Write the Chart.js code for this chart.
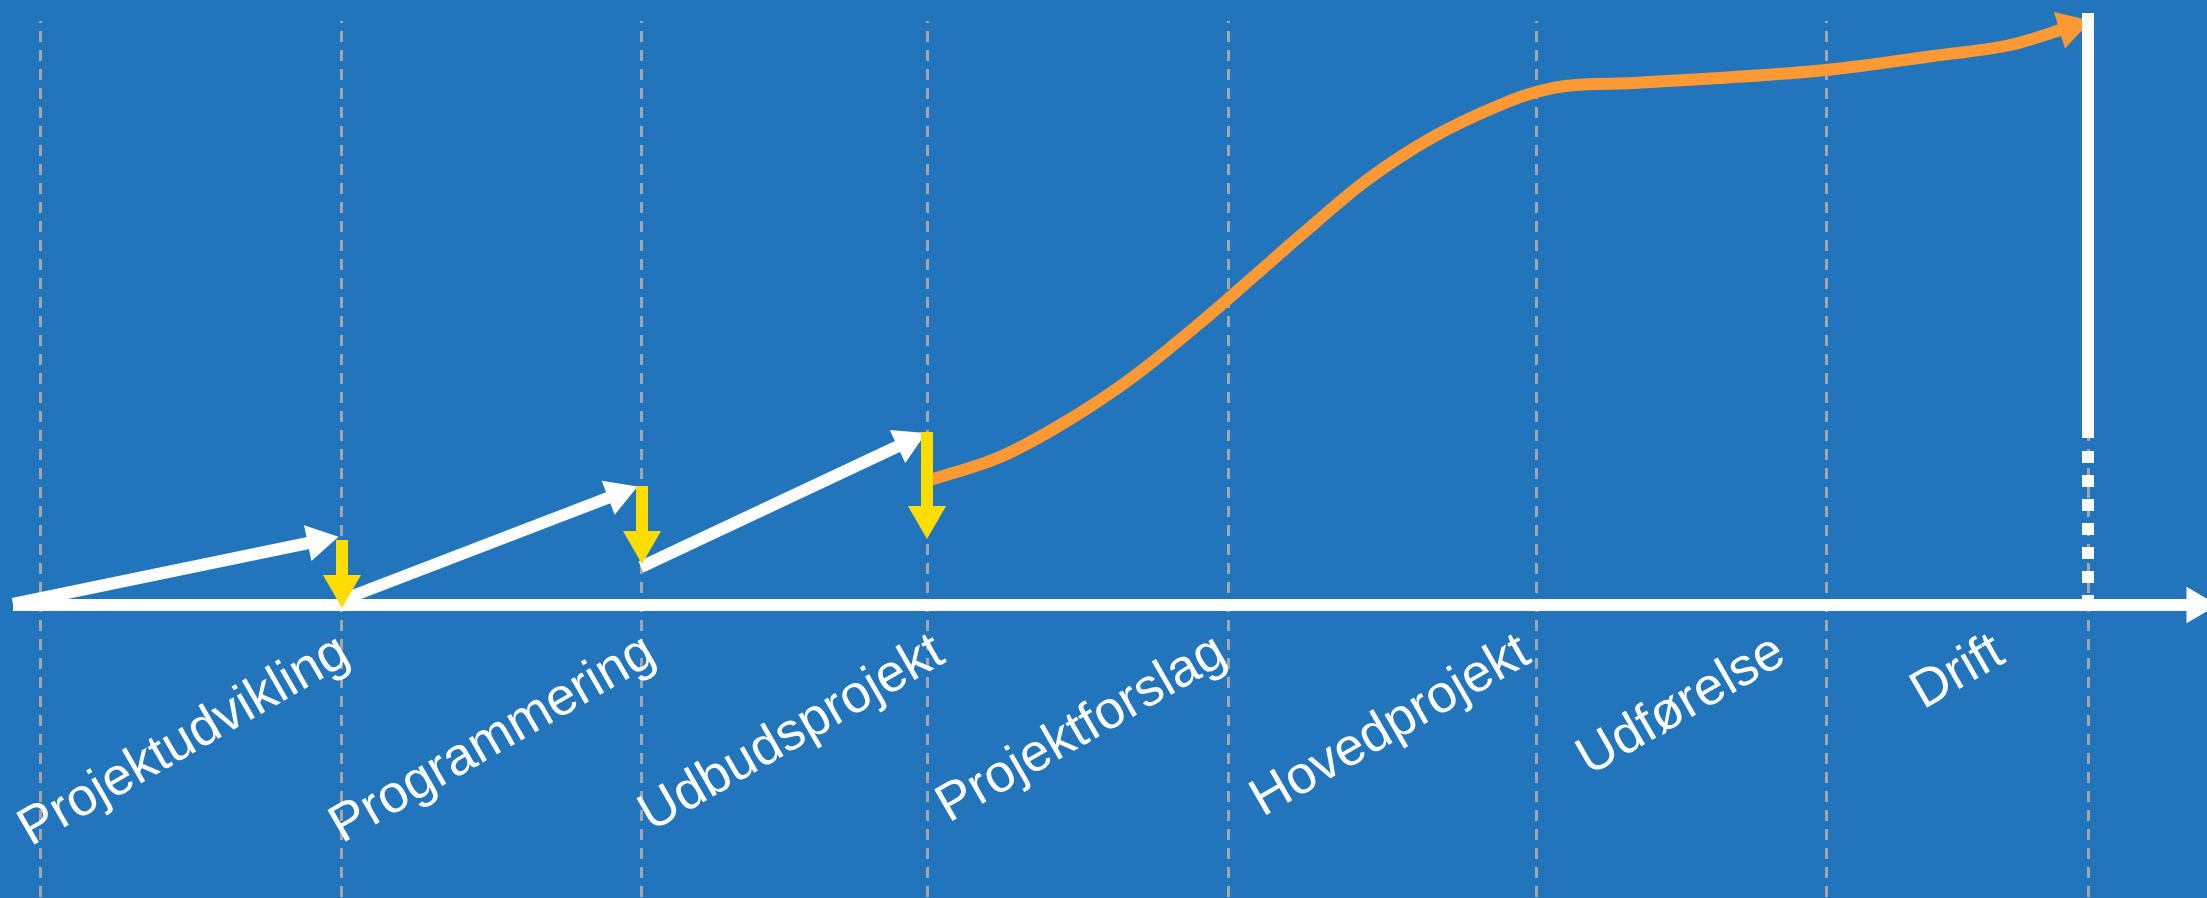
<!DOCTYPE html>
<html>
<head>
<meta charset="utf-8">
<script src="https://cdn.jsdelivr.net/npm/chart.js@4.4.0/dist/chart.umd.min.js"></script>
<style>
  html, body { margin: 0; padding: 0; background: #2375bb; }
  #wrap { width: 2207px; height: 898px; }
</style>
</head>
<body>
<div id="wrap"><canvas id="phases"></canvas></div>
<script>
// phases and where their boundaries / labels sit on the x axis
const phaseLabels = ['Projektudvikling', 'Programmering', 'Udbudsprojekt', 'Projektforslag', 'Hovedprojekt', 'Udførelse', 'Drift'];
const phaseLines = [40, 342, 641, 927, 1228, 1536, 1826, 2088];
const labelEnds = [345, 651, 940, 1222, 1526, 1781, 2000];

// white steps (start -> end)
const stepX0 = [13, 342, 641];
const stepY0 = [1, 5, 38];
const stepX1 = [318, 618, 907];
const stepY1 = [64, 111, 163];

// yellow drops
const dropX = [342, 642, 927];
const dropTop = [65, 119, 173];
const dropEnd = [19, 63, 88];

// orange curve
const costX = [927, 1000, 1067, 1133, 1200, 1260, 1300, 1367, 1433, 1500, 1536, 1565, 1633, 1720, 1826, 1933, 2010, 2070];
const costY = [124, 148, 184, 228, 282, 334, 369, 425, 468, 500, 513, 519, 522, 527, 535, 549, 560, 578];

// drift bar and time axis
const driftX = [2088, 2088];
const driftSolid = [167, 592];
const driftDotted = [154, -1];
const axisX = [13, 2197];
const axisY = [0, 0];

function pts(xs, ys) {
    return xs.map((x, i) => ({ x: x, y: ys[i] }));
}

function headAngle(ctx) {
    if (ctx.type !== 'data' || ctx.dataIndex < 1) return 0;
    const d = ctx.dataset.data;
    const i = ctx.dataIndex;
    const sx = ctx.chart.scales.x;
    const sy = ctx.chart.scales.y;
    const dx = sx.getPixelForValue(d[i].x) - sx.getPixelForValue(d[i - 1].x);
    const dy = sy.getPixelForValue(d[i].y) - sy.getPixelForValue(d[i - 1].y);
    return Math.atan2(dx, -dy) * 180 / Math.PI;
}

function arrow(label, data, color, width, head) {
    return {
        label: label,
        data: data,
        xAxisID: 'x',
        yAxisID: 'y',
        borderColor: color,
        backgroundColor: color,
        borderWidth: width,
        tension: 0,
        clip: false,
        pointStyle: 'triangle',
        pointBackgroundColor: color,
        pointBorderWidth: 0,
        pointRadius: ctx => (head && ctx.type === 'data' && ctx.dataIndex === ctx.dataset.data.length - 1) ? head : 0,
        pointRotation: headAngle
    };
}

const datasets = [];
dropX.forEach((x, i) => {
    datasets.push(arrow('drop ' + (i + 1), pts([x, x], [dropTop[i], dropEnd[i]]), '#ffdd00', 12, 22));
});
datasets.push(arrow('drift', pts(driftX, driftSolid), '#ffffff', 12, 0));
const dotted = arrow('drift dotted', pts(driftX, driftDotted), '#ffffff', 12, 0);
dotted.borderDash = [12, 12];
datasets.push(dotted);
stepX0.forEach((x, i) => {
    datasets.push(arrow('step ' + (i + 1), pts([x, stepX1[i]], [stepY0[i], stepY1[i]]), '#ffffff', 12, 21));
});
datasets.push(arrow('axis', pts(axisX, axisY), '#ffffff', 12, 21));
const cost = arrow('cost', pts(costX, costY), '#ff9933', 12, 22);
cost.cubicInterpolationMode = 'monotone';
datasets.push(cost);

new Chart(document.getElementById('phases'), {
    type: 'line',
    data: { datasets: datasets },
    options: {
        responsive: true,
        maintainAspectRatio: false,
        animation: false,
        events: [],
        layout: { autoPadding: false, padding: { top: 21, left: 0, right: 0, bottom: 0 } },
        plugins: {
            legend: { display: false },
            tooltip: { enabled: false }
        },
        scales: {
            x: {
                type: 'linear',
                min: 0,
                max: 2207,
                position: 'bottom',
                afterBuildTicks: s => { s.ticks = phaseLines.map(v => ({ value: v })); },
                ticks: { display: false },
                grid: { color: '#a3a7ad', lineWidth: 3, drawTicks: false },
                border: { display: false, dash: [11, 8], dashOffset: 9 }
            },
            xl: {
                type: 'linear',
                axis: 'x',
                min: 0,
                max: 2207,
                position: { y: 0 },
                afterBuildTicks: s => { s.ticks = labelEnds.map(v => ({ value: v })); },
                afterFit: s => {
                    s.height = 0;
                    s.paddingLeft = 0;
                    s.paddingRight = 0;
                    s.paddingTop = 0;
                    s.paddingBottom = 0;
                },
                grid: { display: false, drawTicks: false },
                border: { display: false },
                ticks: {
                    autoSkip: false,
                    minRotation: 30,
                    maxRotation: 30,
                    padding: 16,
                    color: '#ffffff',
                    font: { family: "'Liberation Sans', Arial, sans-serif", size: 53 },
                    callback: (v, i) => phaseLabels[i]
                }
            },
            y: {
                type: 'linear',
                min: -293,
                max: 584,
                display: false
            }
        }
    }
});
</script>
</body>
</html>
